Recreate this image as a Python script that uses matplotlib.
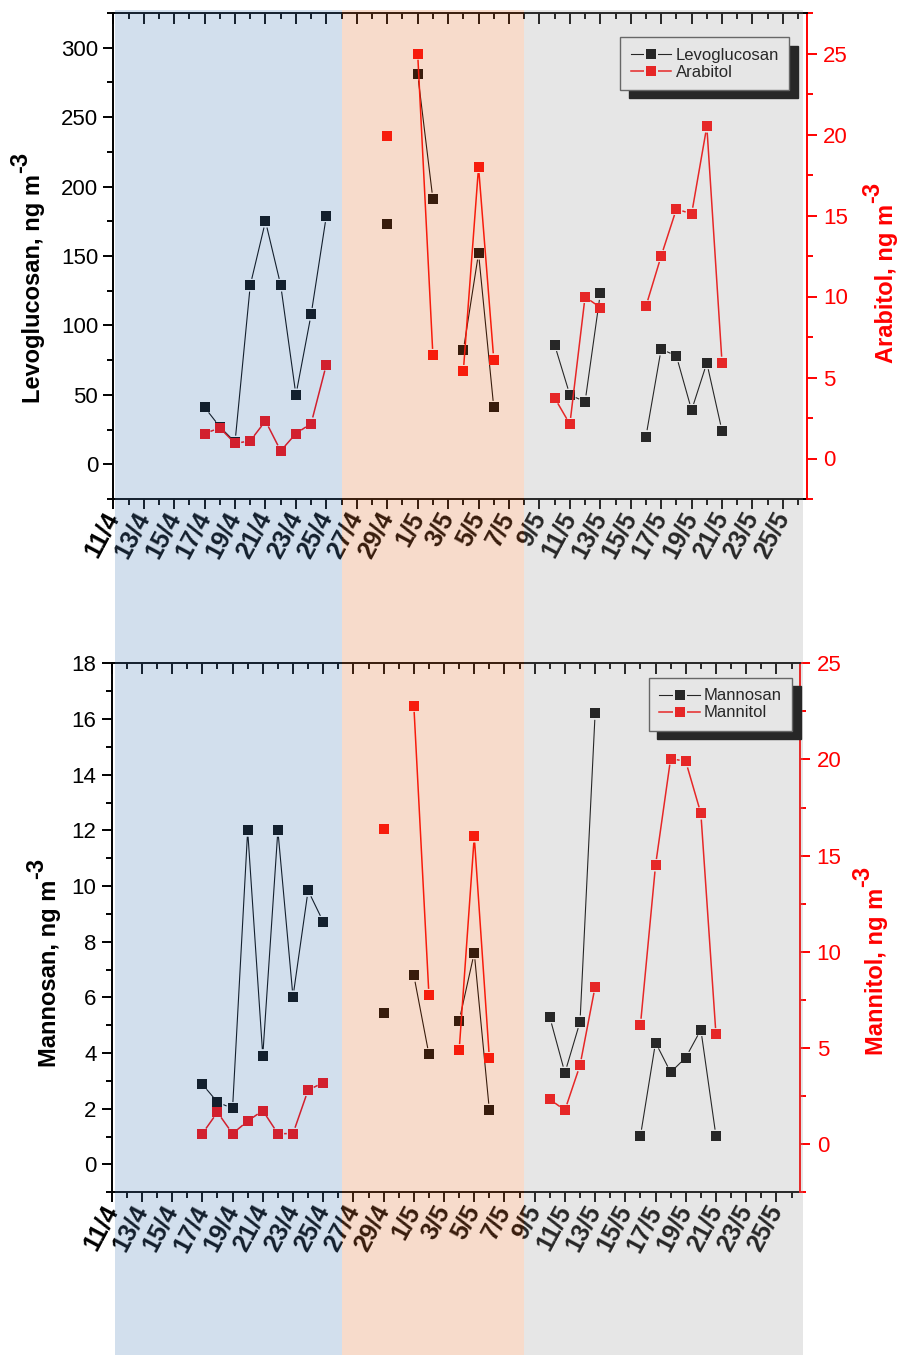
import numpy as np
import pandas as pd
import matplotlib
matplotlib.use('Agg')
import matplotlib.pyplot as plt
import matplotlib.transforms as mtransforms
from matplotlib.lines import Line2D
from matplotlib.patches import Rectangle
from matplotlib.ticker import MultipleLocator, NullFormatter

plt.rcParams['font.family'] = ['Liberation Sans', 'DejaVu Sans']

W, H = 898, 1355
start = pd.Timestamp('2013-04-11')

# sampling days (day/month)
dates = ['17/4', '18/4', '19/4', '20/4', '21/4', '22/4', '23/4', '24/4', '25/4',
         '29/4', '1/5', '2/5', '4/5', '5/5', '6/5',
         '10/5', '11/5', '12/5', '13/5',
         '16/5', '17/5', '18/5', '19/5', '20/5', '21/5']

# ng m-3
levoglucosan = [41, 27, 16, 129, 175, 129, 50, 108, 179,
                173, 281, 191, 82, 152, 41,
                86, 50, 45, 123,
                20, 83, 78, 39, 73, 24]
arabitol = [1.54, 1.89, 0.93, 1.09, 2.32, 0.47, 1.54, 2.16, 5.80,
            19.9, 25.0, 6.38, 5.39, 18.0, 6.11,
            3.74, 2.12, 9.98, 9.32,
            9.40, 12.5, 15.4, 15.1, 20.5, 5.90]
mannosan = [2.88, 2.24, 2.01, 12.0, 3.91, 12.0, 6.02, 9.84, 8.72,
            5.44, 6.79, 3.95, 5.16, 7.60, 1.95,
            5.29, 3.29, 5.12, 16.2,
            1.02, 4.38, 3.31, 3.84, 4.84, 1.02]
mannitol = [0.55, 1.66, 0.55, 1.20, 1.75, 0.55, 0.55, 2.81, 3.20,
            16.4, 22.8, 7.75, 4.88, 16.0, 4.47,
            2.33, 1.77, 4.10, 8.19,
            6.20, 14.5, 20.05, 19.9, 17.2, 5.71]

# sampling periods, shaded over the whole figure
period_edges = ['2013-04-11 03:00', '2013-04-26', '2013-05-08', '2013-05-26 07:00']
period_colors = ['#4f80b8', '#e37333', '#9f9f9f']
x_end = pd.Timestamp('2013-05-26 13:30')


def to_day(t):
    return (pd.Timestamp(t) - start) / pd.Timedelta(days=1)


day_idx = np.array([to_day(pd.to_datetime(d + '/2013', format='%d/%m/%Y')) for d in dates])
all_days = np.arange(day_idx.min(), day_idx.max() + 1)


def daily(values):
    # missing days become NaN so the lines break there
    return pd.Series(values, index=day_idx).reindex(all_days).to_numpy()


def gapped_line(ax, x, y, gap=7.0, **kw):
    # connect consecutive days, leaving a small gap around each symbol
    pts = ax.transData.transform(np.column_stack([x, y]))
    segs = []
    for i in range(len(x) - 1):
        p, q = pts[i], pts[i + 1]
        if np.isnan(p).any() or np.isnan(q).any():
            continue
        d = q - p
        n = np.hypot(*d)
        if n <= 2 * gap:
            continue
        u = d / n
        segs += [p + u * gap, q - u * gap, [np.nan, np.nan]]
    if segs:
        seg = ax.transData.inverted().transform(np.array(segs))
        ax.plot(seg[:, 0], seg[:, 1], **kw)


def legend_handle(color, lw):
    # line, white patch to open a gap, then the symbol
    return (Line2D([], [], color=color, lw=lw),
            Line2D([], [], ls='none', marker='s', ms=9.6, mfc='white', mew=0),
            Line2D([], [], ls='none', marker='s', ms=7.4, mfc=color, mew=0))


fig = plt.figure(figsize=(W / 100, H / 100), dpi=100)

tick_pos = np.arange(0, 46, 2)
tick_lab = [f'{d.day}/{d.month}' for d in start + pd.to_timedelta(tick_pos, unit='D')]


def panel(rect_px, left_vals, right_vals, left_name, right_name,
          lim1, maj1, lim2, maj2, leg_anchor):
    x0, x1, y0, y1 = rect_px
    ax = fig.add_axes([x0 / W, 1 - y1 / H, (x1 - x0) / W, (y1 - y0) / H])
    ax.set_facecolor('none')
    ax2 = ax.twinx()
    ax2.set_facecolor('none')
    axt = ax.twiny()
    axt.set_facecolor('none')

    ax.set_xlim(0, to_day(x_end))
    axt.set_xlim(ax.get_xlim())
    ax.set_ylim(*lim1)
    ax2.set_ylim(*lim2)

    yl, yr = daily(left_vals), daily(right_vals)
    gapped_line(ax, all_days, yl, color='black', lw=0.8)
    ax.plot(all_days, yl, 's', color='black', ms=7.4, mew=0)
    gapped_line(ax2, all_days, yr, color='red', lw=1.1)
    ax2.plot(all_days, yr, 's', color='red', ms=7.4, mew=0)

    ax.set_xticks(tick_pos, tick_lab, fontweight='bold', fontsize=18,
                  rotation=62, ha='right', va='center', rotation_mode='anchor')
    ax.xaxis.set_minor_locator(MultipleLocator(1))
    ax.yaxis.set_major_locator(MultipleLocator(maj1))
    ax.yaxis.set_minor_locator(MultipleLocator(maj1 / 2))
    ax2.yaxis.set_major_locator(MultipleLocator(maj2))
    ax2.yaxis.set_minor_locator(MultipleLocator(maj2 / 2))

    ax.tick_params(axis='x', which='both', direction='out', width=1.4, pad=3)
    ax.tick_params(axis='x', which='major', length=7.5)
    ax.tick_params(axis='x', which='minor', length=4.3)
    ax.tick_params(axis='y', which='both', direction='out', width=1.4, labelsize=16, pad=3.5)
    ax.tick_params(axis='y', which='major', length=7.5)
    ax.tick_params(axis='y', which='minor', length=4.3)
    ax2.tick_params(axis='y', which='both', direction='out', width=1.4, labelsize=16,
                    pad=4.5, colors='red')
    ax2.tick_params(axis='y', which='major', length=7.5)
    ax2.tick_params(axis='y', which='minor', length=4.3)

    # top axis: same date ticks, pointing inwards, no labels
    axt.xaxis.set_major_locator(MultipleLocator(2))
    axt.xaxis.set_minor_locator(MultipleLocator(1))
    axt.xaxis.set_major_formatter(NullFormatter())
    axt.tick_params(axis='x', which='major', direction='in', length=8, width=1.4)
    axt.tick_params(axis='x', which='minor', direction='in', length=4.5, width=1.4)
    axt.tick_params(axis='y', which='both', left=False, right=False,
                    labelleft=False, labelright=False)
    for s in ['left', 'bottom', 'right']:
        axt.spines[s].set_visible(False)
    axt.spines['top'].set_linewidth(1.4)

    for s in ['left', 'bottom']:
        ax.spines[s].set_linewidth(1.4)
    ax.spines['right'].set_visible(False)
    ax.spines['top'].set_visible(False)
    for s in ['left', 'bottom', 'top']:
        ax2.spines[s].set_visible(False)
    ax2.spines['right'].set_color('red')
    ax2.spines['right'].set_linewidth(1.4)

    leg = axt.legend([legend_handle('black', 0.8), legend_handle('red', 1.1)],
                     [left_name, right_name], loc='upper right',
                     bbox_to_anchor=leg_anchor, borderaxespad=0, fontsize=12,
                     fancybox=False, framealpha=1, edgecolor='#555555',
                     handlelength=2.45, handletextpad=0.25, labelspacing=0.12,
                     borderpad=0.62,
                     shadow={'ox': 6, 'oy': -6, 'facecolor': 'black',
                             'edgecolor': 'black', 'alpha': 1})
    leg.get_frame().set_linewidth(1.0)
    return ax, ax2


ax_a, _ = panel((113.3, 806.7, 13, 499), levoglucosan, arabitol,
                'Levoglucosan', 'Arabitol', (-25, 325), 50, (-2.5, 27.5), 5,
                (0.975, 0.95))
ax_b, _ = panel((111.7, 800.0, 663.3, 1192.3), mannosan, mannitol,
                'Mannosan', 'Mannitol', (-1, 18), 2, (-2.5, 25), 5,
                (0.989, 0.972))

# axis titles with a full-size "-3" exponent
titles = [(34, 403, 'Levoglucosan', 'black'), (886, 363, 'Arabitol', 'red'),
          (50, 1067, 'Mannosan', 'black'), (876, 1055, 'Mannitol', 'red')]
texts = []
for x, y, name, c in titles:
    t = fig.text(x / W, 1 - y / H, name + ', ng m', rotation=90, ha='center',
                 va='bottom', fontsize=17, fontweight='bold', color=c)
    texts.append((t, c))

fig.canvas.draw()
inv = fig.transFigure.inverted()
for t, c in texts:
    bb = t.get_window_extent()
    px, py = inv.transform((bb.x1 - 13, bb.y1 + 1))
    fig.text(px, py, '-3', rotation=90, ha='right', va='bottom', fontsize=17,
             fontweight='bold', color=c)

# period shading laid over everything
trans = mtransforms.blended_transform_factory(ax_a.transData, fig.transFigure)
edges = [to_day(e) for e in period_edges]
for a, b, c in zip(edges[:-1], edges[1:], period_colors):
    fig.add_artist(Rectangle((a, 0), b - a, 1 - 10 / H, transform=trans,
                             facecolor=c, edgecolor='none', alpha=0.25, zorder=10))

fig.savefig('out.png', dpi=100)
